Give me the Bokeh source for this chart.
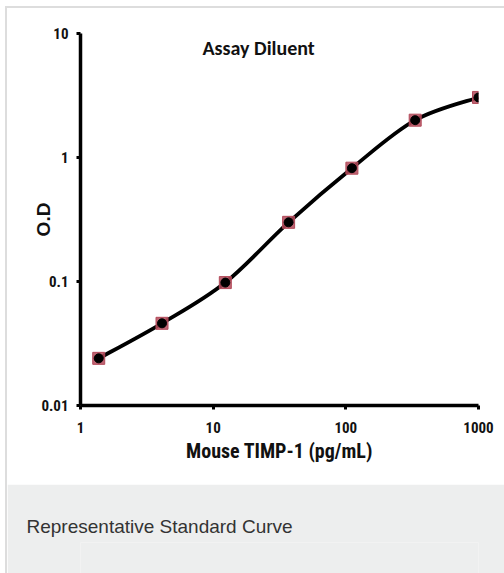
import numpy as np
from bokeh.plotting import figure
from bokeh.models import Label, FixedTicker, CustomJSTickFormatter
from bokeh.layouts import column
from bokeh.embed import file_html
from bokeh.resources import INLINE

# Data
concentration = [1.372, 4.115, 12.35, 37.04, 111.1, 333.3, 1000.0]   # pg/mL
od = [0.024, 0.046, 0.098, 0.30, 0.82, 2.0, 3.05]
x_ticks = [1, 10, 100, 1000]
y_ticks = [0.01, 0.1, 1, 10]
title_text = "Assay Diluent"
x_label = "Mouse TIMP-1 (pg/mL)"
y_label = "O.D"
caption_text = "Representative Standard Curve"

NARROW = "Roboto Condensed, Liberation Sans"
BAND = "#edeeee"

p = figure(width=497, height=476, x_axis_type="log", y_axis_type="log",
           x_range=(1, 1000), y_range=(0.01, 10),
           output_backend="svg", toolbar_location=None,
           min_border_left=73, min_border_right=26, min_border_top=25, min_border_bottom=79,
           outline_line_color=None, border_fill_color="white", background_fill_color="white")
p.grid.visible = False

# smooth curve through the points (Catmull-Rom in log space -> cubic Bezier segments)
lx = np.log10(concentration)
ly = np.log10(od)
n = len(lx)
x0s, y0s, x1s, y1s, cx0s, cy0s, cx1s, cy1s = [], [], [], [], [], [], [], []
for i in range(n - 1):
    pxm = lx[i - 1] if i > 0 else lx[i]
    pym = ly[i - 1] if i > 0 else ly[i]
    pxp = lx[i + 2] if i + 2 < n else lx[i + 1]
    pyp = ly[i + 2] if i + 2 < n else ly[i + 1]
    x0s.append(10 ** lx[i]); y0s.append(10 ** ly[i])
    x1s.append(10 ** lx[i + 1]); y1s.append(10 ** ly[i + 1])
    cx0s.append(10 ** (lx[i] + (lx[i + 1] - pxm) / 6)); cy0s.append(10 ** (ly[i] + (ly[i + 1] - pym) / 6))
    cx1s.append(10 ** (lx[i + 1] - (pxp - lx[i]) / 6)); cy1s.append(10 ** (ly[i + 1] - (pyp - ly[i]) / 6))
p.bezier(x0=x0s, y0=y0s, x1=x1s, y1=y1s, cx0=cx0s, cy0=cy0s, cx1=cx1s, cy1=cy1s,
         line_color="black", line_width=3.8)

p.scatter(concentration, od, marker="square", size=12, fill_color="#b34a5a",
          line_color="#b34a5a", fill_alpha=0.85)
p.scatter(concentration, od, marker="circle", size=9, fill_color="black", line_color="black")

for ax in (p.xaxis[0], p.yaxis[0]):
    ax.axis_line_width = 3.5
    ax.axis_line_color = "black"
    ax.major_tick_line_width = 3
    ax.major_tick_line_color = "black"
    ax.major_tick_out = 4
    ax.major_tick_in = 0
    ax.minor_tick_line_color = None
    ax.major_label_text_font = NARROW
    ax.major_label_text_font_style = "bold"
    ax.major_label_text_font_size = "15px"
    ax.major_label_text_color = "#111111"

p.xaxis.ticker = FixedTicker(ticks=x_ticks)
p.yaxis.ticker = FixedTicker(ticks=y_ticks)
fmt = CustomJSTickFormatter(code="return tick >= 1 ? tick.toFixed(0) : String(Number(tick.toPrecision(1)));")
p.xaxis.formatter = fmt
p.yaxis.formatter = fmt
p.xaxis.major_label_standoff = 12
p.yaxis.major_label_standoff = 8

p.xaxis.axis_label = x_label
p.xaxis.axis_label_text_font = NARROW
p.xaxis.axis_label_text_font_style = "bold"
p.xaxis.axis_label_text_font_size = "20px"
p.xaxis.axis_label_text_color = "#111111"
p.xaxis.axis_label_standoff = 3

p.yaxis.axis_label = y_label
p.yaxis.axis_label_text_font = "Liberation Sans"
p.yaxis.axis_label_text_font_style = "bold"
p.yaxis.axis_label_text_font_size = "19px"
p.yaxis.axis_label_text_color = "#111111"
p.yaxis.axis_label_standoff = -16

p.add_layout(Label(x=22, y=7.6, text=title_text, text_align="center", text_baseline="middle",
                   text_font="Carlito, Lato", text_font_style="bold", text_font_size="20px",
                   text_color="#111111"))

# caption band, text drawn as the figure's title
cap = figure(width=497, height=89, x_range=(0, 1), y_range=(0, 1),
             output_backend="svg", toolbar_location=None,
             x_axis_location=None, y_axis_location=None,
             min_border_left=0, min_border_right=0, min_border_bottom=0, min_border_top=58,
             outline_line_color=None, title=caption_text, title_location="above",
             background_fill_color=BAND, border_fill_color=BAND)
cap.grid.visible = False
cap.title.align = "left"
cap.title.vertical_align = "middle"
cap.title.offset = -54
cap.title.text_font = "Liberation Sans"
cap.title.text_font_style = "normal"
cap.title.text_font_size = "19px"
cap.title.text_color = "#333333"

layout = column(p, cap, spacing=0, margin=(6, 0, 0, 5),
                styles={"border-left": "2px solid #dddddd", "border-top": "2px solid #dddddd"})
open("out.html", "w").write(file_html(layout, INLINE))
